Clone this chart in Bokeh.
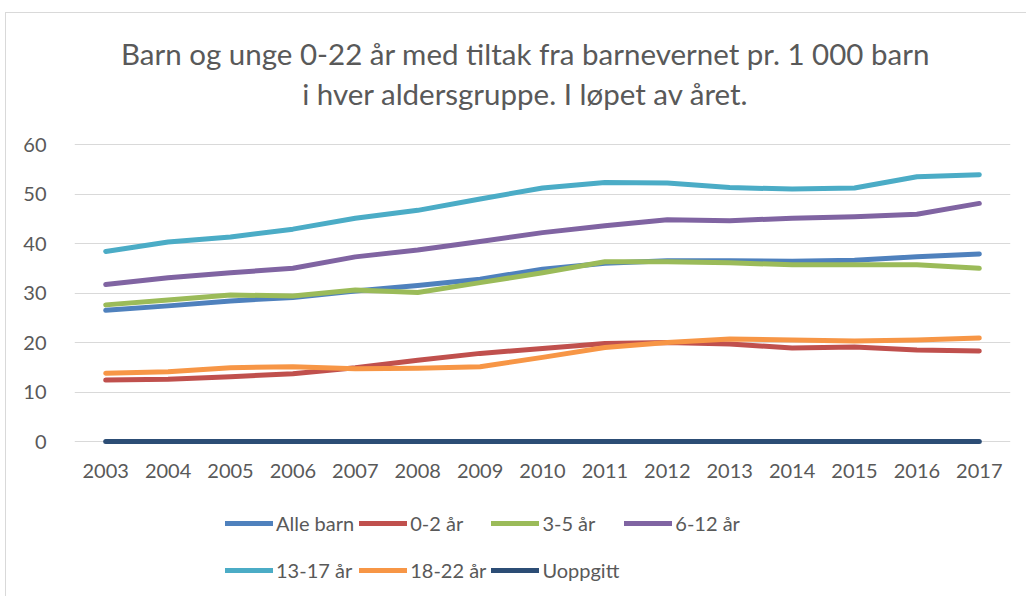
from bokeh.plotting import figure
from bokeh.models import (Legend, LegendItem, FixedTicker, Range1d, Label, ColumnDataSource)
from bokeh.core.properties import value
from bokeh.embed import file_html
from bokeh.resources import INLINE

years = [2003, 2004, 2005, 2006, 2007, 2008, 2009, 2010, 2011, 2012, 2013, 2014, 2015, 2016, 2017]
year_labels = [str(y) for y in years]

alle_barn = [26.5, 27.4, 28.4, 29.1, 30.4, 31.5, 32.8, 34.8, 36.0, 36.5, 36.5, 36.4, 36.6, 37.3, 37.9]
aar_0_2   = [12.4, 12.6, 13.1, 13.7, 14.9, 16.4, 17.8, 18.8, 19.8, 20.0, 19.7, 18.9, 19.1, 18.5, 18.3]
aar_3_5   = [27.6, 28.6, 29.6, 29.4, 30.6, 30.1, 32.1, 34.1, 36.3, 36.3, 36.1, 35.7, 35.7, 35.7, 35.0]
aar_6_12  = [31.7, 33.1, 34.1, 35.0, 37.3, 38.7, 40.4, 42.2, 43.6, 44.8, 44.6, 45.1, 45.4, 45.9, 48.1]
aar_13_17 = [38.4, 40.3, 41.3, 42.9, 45.1, 46.7, 49.0, 51.2, 52.3, 52.2, 51.3, 51.0, 51.2, 53.5, 53.9]
aar_18_22 = [13.8, 14.1, 14.9, 15.1, 14.7, 14.8, 15.1, 17.0, 19.0, 20.0, 20.7, 20.5, 20.3, 20.5, 20.9]
uoppgitt  = [0, 0, 0, 0, 0, 0, 0, 0, 0, 0, 0, 0, 0, 0, 0]

series_names = ["Alle barn", "0-2 år", "3-5 år", "6-12 år", "13-17 år", "18-22 år", "Uoppgitt"]
series_values = [alle_barn, aar_0_2, aar_3_5, aar_6_12, aar_13_17, aar_18_22, uoppgitt]
colors = ["#4F81BD", "#C0504D", "#9BBB59", "#8064A2", "#4BACC6", "#F79646", "#2C4D75"]

y_ticks = [0, 10, 20, 30, 40, 50, 60]
title_lines = ["Barn og unge 0-22 år med tiltak fra barnevernet pr. 1 000 barn",
               "i hver aldersgruppe. I løpet av året."]

FONT = "Lato"
TXT = "#595959"

# chart area box: offset 5px / 12px with a thin grey border on its top and left
OFF_X, OFF_Y = 6, 13
W, H = 1027 - OFF_X, 597 - OFF_Y
LEFT, RIGHT = 74 - OFF_X, 1027 - 1010
PX_PER_UNIT = 297 / 60.0
Y_TOP = 60 + (144 - OFF_Y) / PX_PER_UNIT
Y_BOTTOM = -(597 - 441) / PX_PER_UNIT
YEAR_LABEL_Y = -5.9

p = figure(width=W, height=H, output_backend="svg", toolbar_location=None,
           x_range=Range1d(2002.5, 2017.5), y_range=Range1d(Y_BOTTOM, Y_TOP),
           min_border_left=LEFT, min_border_right=RIGHT, min_border_top=0, min_border_bottom=0)
p.margin = (OFF_Y - 1, 0, 0, OFF_X - 1)
p.styles = {"border-top": "1px solid #D9D9D9", "border-left": "1px solid #D9D9D9"}
p.title = None

# title (two centred lines), positioned in screen pixels relative to the frame
for txt, ypix in zip(title_lines, [53, 93]):
    p.add_layout(Label(x=525 - OFF_X - LEFT, y=H - (ypix - OFF_Y), x_units="screen", y_units="screen",
                       text=txt, text_align="center", text_baseline="middle",
                       text_font=FONT, text_font_size="29.5px", text_color=TXT))

p.outline_line_color = None
p.background_fill_color = "white"
p.border_fill_color = "white"

p.xaxis.visible = False
p.xgrid.grid_line_color = None
p.ygrid.grid_line_color = "#D9D9D9"
p.ygrid.grid_line_width = 1.2

p.yaxis.ticker = FixedTicker(ticks=y_ticks)
ax = p.yaxis[0]
ax.axis_line_color = None
ax.major_tick_line_color = None
ax.minor_tick_line_color = None
ax.major_label_text_font = FONT
ax.major_label_text_font_size = "20px"
ax.major_label_text_color = TXT
ax.major_label_standoff = 22

# year (category) labels under the plot
lab_src = ColumnDataSource(dict(x=years, y=[YEAR_LABEL_Y] * len(years), t=year_labels))
p.text(x="x", y="y", text="t", source=lab_src, text_font=value(FONT),
       text_font_size="20px", text_color=TXT, text_align="center", text_baseline="middle")

renderers = []
for name, vals, c in zip(series_names, series_values, colors):
    r = p.line(years, vals, line_color=c, line_width=5, line_cap="round", line_join="round")
    renderers.append(r)

items = [LegendItem(label=n, renderers=[r]) for n, r in zip(series_names, renderers)]
lg = Legend(items=items, orientation="horizontal", ncols=4, location=(225 - 74, 6),
            glyph_width=48, glyph_height=42, label_height=42, label_standoff=3,
            spacing=5, padding=0, margin=0, border_line_color=None,
            background_fill_alpha=0, label_text_font=FONT, label_text_font_size="20px",
            label_text_color=TXT)
p.add_layout(lg, "center")

open("out.html", "w").write(file_html(p, INLINE))
